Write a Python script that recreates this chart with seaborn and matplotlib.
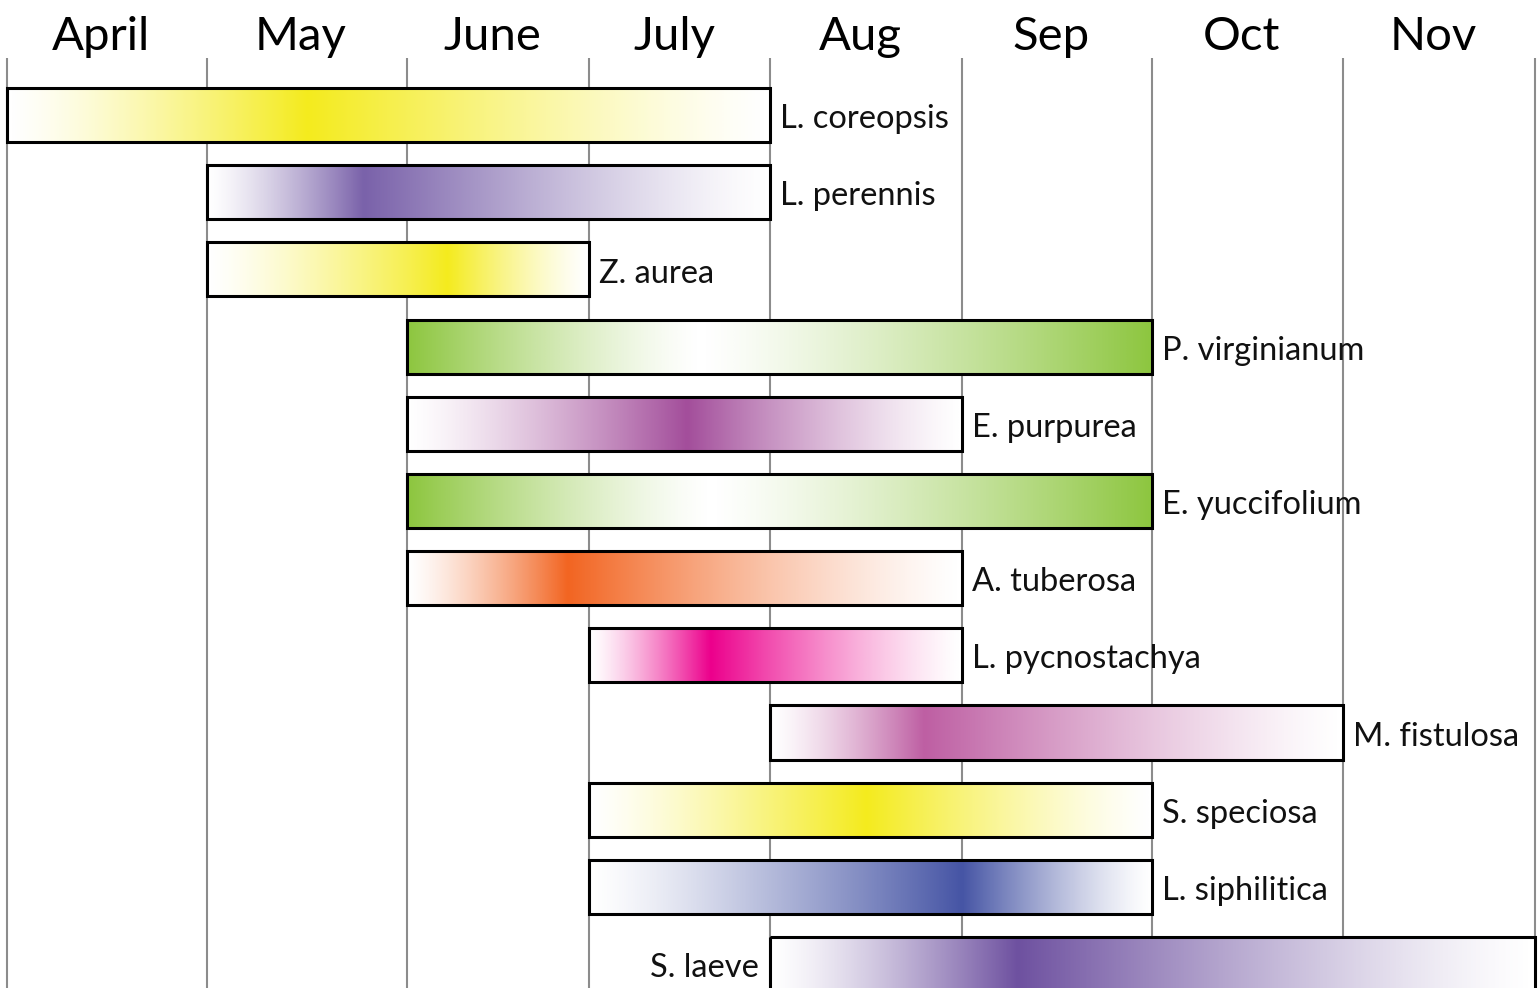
import numpy as np
import matplotlib
matplotlib.use("Agg")
import matplotlib.pyplot as plt
import seaborn as sns

months = ["April", "May", "June", "July", "Aug", "Sep", "Oct", "Nov"]

species = ["L. coreopsis", "L. perennis", "Z. aurea", "P. virginianum", "E. purpurea",
           "E. yuccifolium", "A. tuberosa", "L. pycnostachya", "M. fistulosa",
           "S. speciosa", "L. siphilitica", "S. laeve"]
# months counted from 1 April
start = [0, 1, 1, 2, 2, 2, 2, 3, 4, 3, 3, 4]
end = [4, 4, 3, 6, 5, 6, 5, 5, 7, 6, 6, 8]
# strongest colour for blooms, palest point for foliage
peak = [1.5, 1.78, 2.22, 3.61, 3.54, 3.67, 2.88, 3.67, 4.8, 4.5, 5.0, 5.29]
kind = ["bloom", "bloom", "bloom", "foliage", "bloom", "foliage",
        "bloom", "bloom", "bloom", "bloom", "bloom", "bloom"]
colors = ["#f4eb1e", "#7a62aa", "#f4eb1e", "#8dc63f", "#a34e9b", "#8dc63f",
          "#f26522", "#ec008c", "#be5fa3", "#f4eb1e", "#4655a5", "#6e51a0"]
label_side = ["right"] * 11 + ["left"]

sns.set_theme(style="white")
plt.rcParams['font.family'] = ['Lato', 'DejaVu Sans']

fig = plt.figure(figsize=(15.38, 9.88), dpi=100)
ax = fig.add_axes([0, 0, 1, 1])

# month columns are not quite equal width in the original
edge_px = np.array([7, 207, 407, 589, 770, 962, 1152, 1343, 1535], dtype=float)
idx = np.arange(len(edge_px), dtype=float)
idx_ext = np.r_[-10.0, idx, idx[-1] + 10]
px_ext = np.r_[edge_px[0] - 2000, edge_px, edge_px[-1] + 1920]


def fwd(v):
    return np.interp(v, idx_ext, px_ext)


def inv(v):
    return np.interp(v, px_ext, idx_ext)


ax.set_xscale('function', functions=(fwd, inv))

h = 0.70
for i in range(len(species)):
    xs = np.linspace(start[i], end[i], 800)
    left = (xs - start[i]) / (peak[i] - start[i])
    right = (end[i] - xs) / (end[i] - peak[i])
    t = np.where(xs < peak[i], left, right)
    if kind[i] == "foliage":
        t = 1 - t
    t = np.clip(t, 0, 1) ** 1.3
    cmap = sns.blend_palette(["white", colors[i]], as_cmap=True)
    img = cmap(t)[None, :, :]
    ax.imshow(img, extent=(start[i], end[i], i + h / 2, i - h / 2),
              aspect='auto', interpolation='bilinear', zorder=2)
    ax.barh(i, end[i] - start[i], left=start[i], height=h, fill=False,
            edgecolor='black', linewidth=2.2, zorder=3)
    if label_side[i] == "right":
        ax.annotate(species[i], (end[i], i), xytext=(7, -3), textcoords='offset points',
                    ha='left', va='center', fontsize=23.5, color='#111111', zorder=4)
    else:
        ax.annotate(species[i], (start[i], i), xytext=(-8, -3), textcoords='offset points',
                    ha='right', va='center', fontsize=23.5, color='#111111', zorder=4)

# month boundaries
ax.vlines(idx, -0.74, 13, color='#8c8c8c', linewidth=1.5, zorder=1)
for j, m in enumerate(months):
    ax.text(j + 0.47, -0.842, m, ha='center', va='baseline', fontsize=34, color='black')

ax.set_xlim(inv(0), inv(1538))
ax.set_ylim(11.31, -1.49)
ax.axis('off')

fig.savefig('out.png', dpi=100)
